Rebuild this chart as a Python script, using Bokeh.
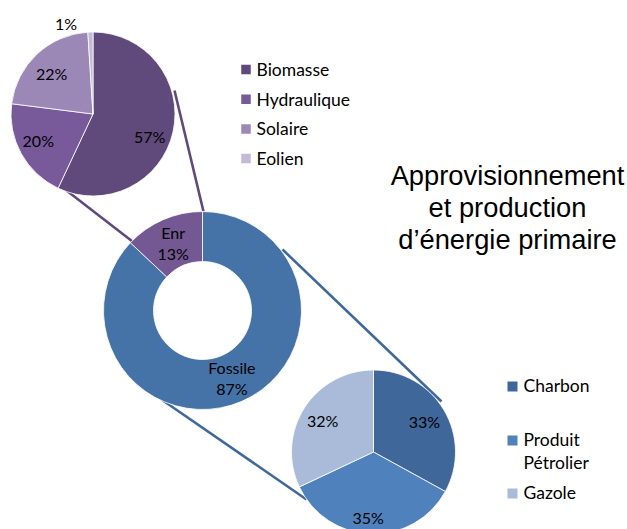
import numpy as np
from bokeh.plotting import figure
from bokeh.models import Range1d
from bokeh.embed import file_html
from bokeh.resources import INLINE
from bokeh.core.properties import value

# ---------------- data ----------------
enr_categories = ["Biomasse", "Hydraulique", "Solaire", "Eolien"]
enr_values = [57, 20, 22, 1]
enr_colors = ["#604A7B", "#785A9B", "#9C88B6", "#C4BAD6"]

main_categories = ["Fossile", "Enr"]
main_values = [87, 13]
main_colors = ["#4573A8", "#745894"]

fossil_categories = ["Charbon", "Produit Pétrolier", "Gazole"]
fossil_legend_lines = [["Charbon"], ["Produit", "Pétrolier"], ["Gazole"]]
fossil_values = [33, 35, 32]
fossil_colors = ["#406799", "#4F81BD", "#A9BBD9"]

title_lines = ["Approvisionnement", "et production", "d’énergie primaire"]

# ---------------- layout ----------------
W, H = 627, 529


def X(px):
    return px


def Y(py):
    return H - py


LABEL_FONT = value("Lato")
TITLE_FONT = value("Liberation Sans")


def slices(vals):
    v = np.asarray(vals, dtype=float)
    frac = v / v.sum()
    c1 = np.cumsum(frac)
    c0 = c1 - frac
    start = np.pi / 2 - 2 * np.pi * c1
    end = np.pi / 2 - 2 * np.pi * c0
    theta = 2 * np.pi * (c0 + c1) / 2  # clockwise from top
    return frac, start, end, theta


p = figure(width=W, height=H, x_range=Range1d(0, W), y_range=Range1d(0, H),
           output_backend="svg", toolbar_location=None,
           x_axis_location=None, y_axis_location=None, min_border=0,
           outline_line_color=None, background_fill_color="white",
           border_fill_color="white")
p.xgrid.visible = False
p.ygrid.visible = False

# connectors (under the pies)
purple_line = "#604A7B"
blue_line = "#40699B"
connectors = [
    ((174, 90), (203, 211), purple_line),
    ((66, 190), (132, 241), purple_line),
    ((282, 249), (441, 401), blue_line),
    ((161, 399), (306, 499), blue_line),
]
for (a, b, c) in connectors:
    p.line([X(a[0]), X(b[0])], [Y(a[1]), Y(b[1])], line_color=c, line_width=2.6)

# ---- top pie (Enr breakdown)
cx1, cy1, r1 = 92.5, 113.5, 82
# label nudges (screen px, +y = down) mimicking Excel's best-fit placement
nudge1 = [(-1, 10), (-3, -2), (-1, 2.5), (-24, 1)]
frac, st, en, th = slices(enr_values)
p.wedge(x=X(cx1), y=Y(cy1), radius=r1, start_angle=st, end_angle=en,
        direction="anticlock", fill_color=enr_colors, line_color="white",
        line_width=0.8)
lx, ly = [], []
for f, t, (nx, ny) in zip(frac, th, nudge1):
    d = (1.12 if f < 0.05 else 0.72) * r1
    lx.append(X(cx1) + d * np.sin(t) + nx)
    ly.append(Y(cy1) + d * np.cos(t) - ny)
p.text(x=lx, y=ly, text=[f"{v}%" for v in enr_values], text_font=LABEL_FONT,
       text_font_size="16px", text_align="center", text_baseline="middle",
       text_color="black")

# ---- donut (main)
cx2, cy2, ri2, ro2 = 202, 310, 49, 99
frac, st, en, th = slices(main_values)
p.annular_wedge(x=X(cx2), y=Y(cy2), inner_radius=ri2, outer_radius=ro2,
                start_angle=st, end_angle=en, direction="anticlock",
                fill_color=main_colors, line_color="white", line_width=0.8)
d = (ri2 + ro2) / 2
mx = X(cx2) + d * np.sin(th)
my = Y(cy2) + d * np.cos(th)
p.text(x=mx, y=my + 10.5, text=main_categories, text_font=LABEL_FONT,
       text_font_size="16px", text_align="center", text_baseline="middle",
       text_color="black")
p.text(x=mx, y=my - 10.5, text=[f"{v}%" for v in main_values],
       text_font=LABEL_FONT, text_font_size="16px", text_align="center",
       text_baseline="middle", text_color="black")

# ---- bottom pie (Fossile breakdown)
cx3, cy3, r3 = 373, 451.5, 82
nudge3 = [(0, 0), (-3.5, 6), (-1, 0)]
frac, st, en, th = slices(fossil_values)
p.wedge(x=X(cx3), y=Y(cy3), radius=r3, start_angle=st, end_angle=en,
        direction="anticlock", fill_color=fossil_colors, line_color="white",
        line_width=0.8)
d = 0.72 * r3
p.text(x=X(cx3) + d * np.sin(th) + np.array([n[0] for n in nudge3]),
       y=Y(cy3) + d * np.cos(th) - np.array([n[1] for n in nudge3]),
       text=[f"{v}%" for v in fossil_values], text_font=LABEL_FONT,
       text_font_size="16px", text_align="center", text_baseline="middle",
       text_color="black")

# ---- legends
leg1_y = [69 + 29.7 * i for i in range(len(enr_categories))]
p.rect(x=[X(245.5)] * len(leg1_y), y=[Y(v) for v in leg1_y], width=9.5,
       height=9.5, fill_color=enr_colors, line_color=None)
p.text(x=[X(256)] * len(leg1_y), y=[Y(v) for v in leg1_y], text=enr_categories,
       text_font=LABEL_FONT, text_font_size="17.5px", text_align="left",
       text_baseline="middle", text_color="black")

leg2_y = [386, 440, 493]
p.rect(x=[X(512)] * len(leg2_y), y=[Y(v) for v in leg2_y], width=10,
       height=10, fill_color=fossil_colors, line_color=None)
tx, ty, tt = [], [], []
for yy, lines in zip(leg2_y, fossil_legend_lines):
    for k, s in enumerate(lines):
        tx.append(X(523))
        ty.append(Y(yy - 1 + 23 * k))
        tt.append(s)
p.text(x=tx, y=ty, text=tt, text_font=LABEL_FONT, text_font_size="17.5px",
       text_align="left", text_baseline="middle", text_color="black")

# ---- title
title_mid = [175, 207, 239]
p.text(x=[X(507)] * 3, y=[Y(v) for v in title_mid], text=title_lines,
       text_font=TITLE_FONT, text_font_size="27.3px", text_align="center",
       text_baseline="middle", text_color="black")

open("out.html", "w").write(file_html(p, INLINE))
